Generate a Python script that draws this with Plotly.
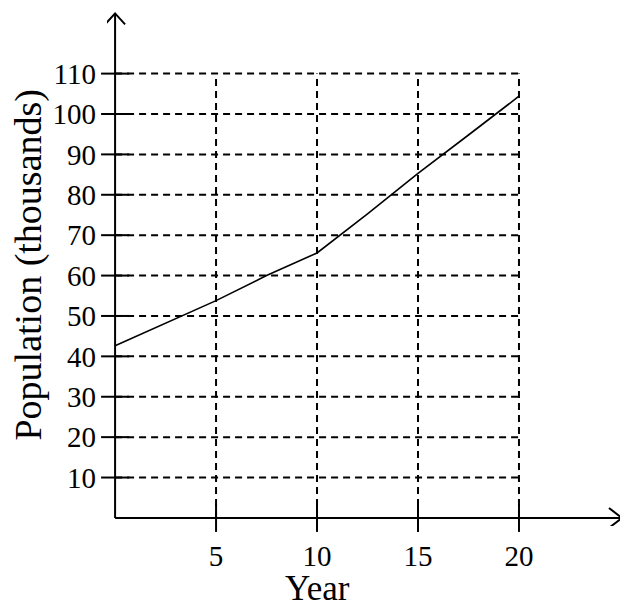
import plotly.graph_objects as go

# --- data ---
years = [0, 5, 7.5, 10, 12.5, 15, 17.5, 20]
population = [42.6, 53.8, 60, 65.6, 75.3, 85.3, 94.8, 104.4]

x_ticks = [5, 10, 15, 20]
y_ticks = [10, 20, 30, 40, 50, 60, 70, 80, 90, 100, 110]

X_TIP = 25.1      # where the x arrow ends
Y_TIP = 124.9     # where the y arrow ends
FONT = "Liberation Serif"

fig = go.Figure()

# dashed grid, only inside the 0..20 x 0..110 box
grid = dict(color="black", width=2, dash="7px,5px")
shapes = []
for gx in x_ticks:
    shapes.append(dict(type="line", xref="x", yref="y", x0=gx, x1=gx,
                       y0=0, y1=y_ticks[-1], line=grid, layer="below"))
for gy in y_ticks:
    shapes.append(dict(type="line", xref="x", yref="y", x0=0, x1=x_ticks[-1],
                       y0=gy, y1=gy, line=grid, layer="below"))

# axes with open arrow heads
axis = dict(color="black", width=2)
shapes.append(dict(type="line", xref="x", yref="y", x0=0, x1=X_TIP, y0=0, y1=0, line=axis))
shapes.append(dict(type="line", xref="x", yref="y", x0=0, x1=0, y0=0, y1=Y_TIP, line=axis))
shapes.append(dict(type="path", xref="x", yref="y", xsizemode="pixel", ysizemode="pixel",
                   xanchor=X_TIP, yanchor=0, path="M-13,10 L0,0 L-13,-10", line=axis))
shapes.append(dict(type="path", xref="x", yref="y", xsizemode="pixel", ysizemode="pixel",
                   xanchor=0, yanchor=Y_TIP, path="M-10,-11 L0,0 L10,-11", line=axis))

# population curve
fig.add_trace(go.Scatter(x=years, y=population, mode="lines",
                         line=dict(color="black", width=1.6), hoverinfo="skip"))

# tick marks crossing the axes
fig.add_trace(go.Scatter(x=x_ticks, y=[0] * len(x_ticks), mode="markers", cliponaxis=False,
                         marker=dict(symbol="line-ns", size=20, line=dict(color="black", width=2))))
fig.add_trace(go.Scatter(x=[0] * len(y_ticks), y=y_ticks, mode="markers", cliponaxis=False,
                         marker=dict(symbol="line-ew", size=20, line=dict(color="black", width=2))))

# the page body keeps its 8px margin, so the figure is 8px smaller each way
fig.update_layout(
    width=620, height=597,
    margin=dict(l=99, r=2, t=3, b=79),
    paper_bgcolor="white", plot_bgcolor="white",
    showlegend=False,
    font=dict(family=FONT, color="black", size=29),
    shapes=shapes,
    xaxis=dict(range=[-0.4, 25.3], tickvals=x_ticks, ticks="", showgrid=False,
               zeroline=False, showline=False, ticklabelstandoff=10,
               tickfont=dict(family=FONT, size=29, color="black")),
    yaxis=dict(range=[-2, 125.5], tickvals=y_ticks, ticks="", showgrid=False,
               zeroline=False, showline=False, ticklabelstandoff=10,
               tickfont=dict(family=FONT, size=29, color="black")),
    annotations=[
        dict(text="Year", x=10, xref="x", y=-0.122, yref="paper", showarrow=False,
             xanchor="center", yanchor="middle", font=dict(family=FONT, size=35)),
        dict(text="Population (thousands)", x=-0.152, xref="paper", y=0.506, yref="paper",
             textangle=-90, showarrow=False, xanchor="center", yanchor="middle",
             font=dict(family=FONT, size=38)),
    ],
)

fig.write_html("out.html")
